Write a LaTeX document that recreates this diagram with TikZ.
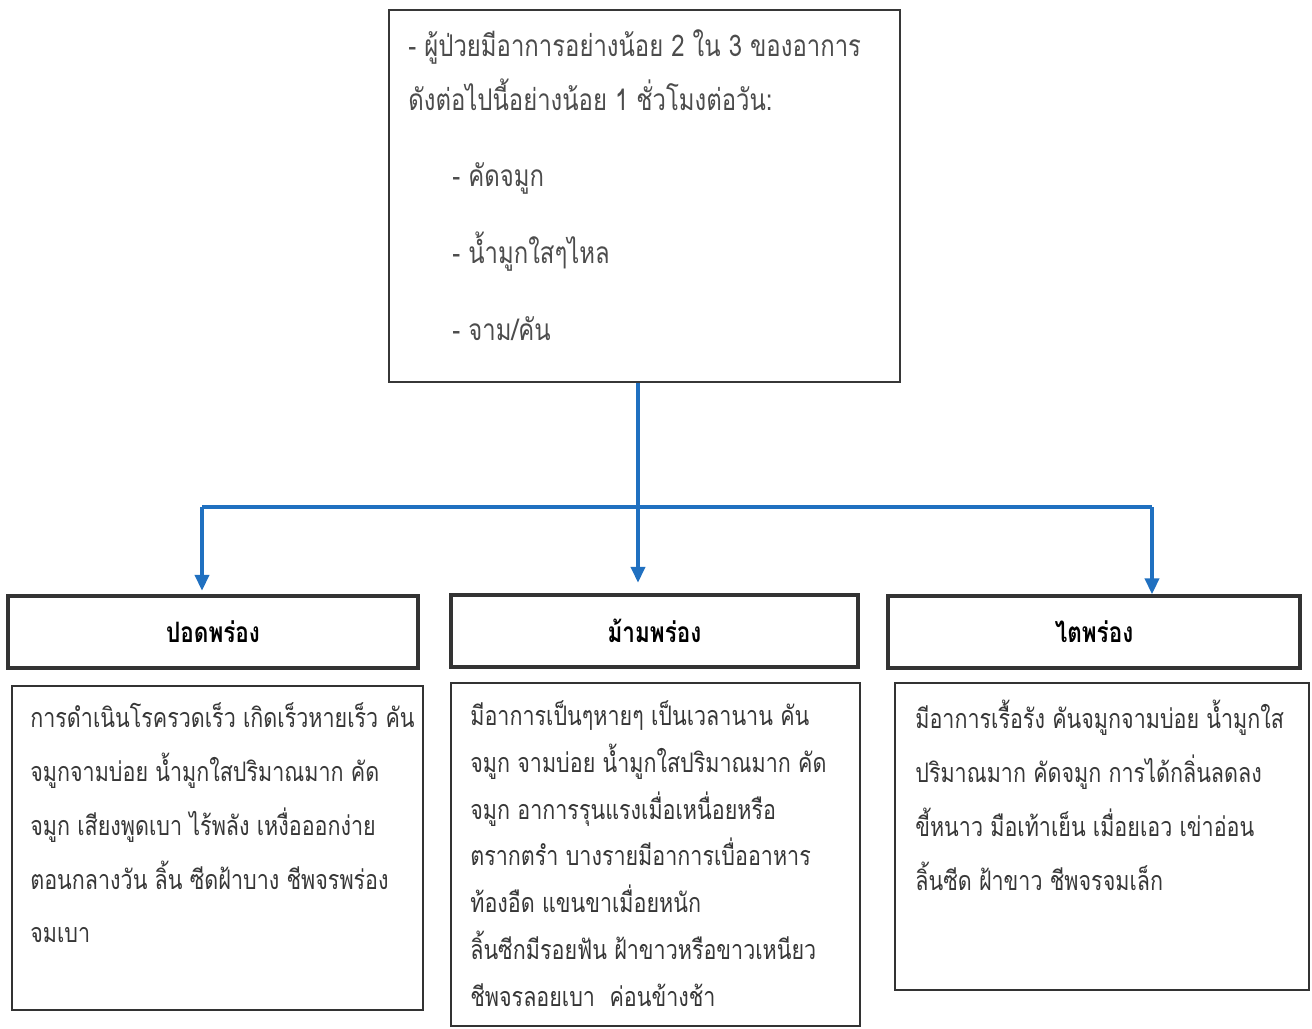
\documentclass[tikz,border=0pt]{standalone}
\usepackage{fontspec}
\newfontfamily\thaifont[Script=Thai,FakeStretch=0.8]{Loma}
\usetikzlibrary{arrows.meta}
\definecolor{linkblue}{RGB}{32,112,192}
\definecolor{inkgray}{RGB}{55,55,55}

\begin{document}
\begin{tikzpicture}[x=0.02cm,y=-0.02cm]
    \tikzset{
        topbox/.style={draw=inkgray, line width=1pt, minimum width=10.22cm, minimum height=7.44cm, inner sep=0pt},
        headbox/.style={draw=black!80, line width=2pt, minimum height=1.44cm, inner sep=0pt,
            font=\thaifont\bfseries\fontsize{16}{18}\selectfont},
        bodybox/.style={draw=black!80, line width=1pt, inner sep=0pt},
        bodytext/.style={anchor=north west, inner sep=0pt, align=left, text=inkgray,
            font=\thaifont\fontsize{15.3}{30.7}\selectfont},
        link/.style={draw=linkblue, line width=2pt},
        arrow/.style={link, -{Triangle[width=8pt,length=9pt]}}
    }
    \useasboundingbox (0,0) rectangle (1312,1028);

    % top box
    \node[topbox] (criteria) at (644.5,196) {};
    \node[bodytext, text=black!70, font=\thaifont\fontsize{17}{30.7}\selectfont] (criteriatext) at (408,29)
        {- ผู้ป่วยมีอาการอย่างน้อย 2 ใน 3 ของอาการ\\
         ดังต่อไปนี้อย่างน้อย 1 ชั่วโมงต่อวัน:\\[13pt]
         \hspace{0.88cm}- คัดจมูก\\[13pt]
         \hspace{0.88cm}- น้ำมูกใสๆไหล\\[13pt]
         \hspace{0.88cm}- จาม/คัน};

    % headings
    \node[headbox, minimum width=8.2cm] (lunghead) at (213,632) {ปอดพร่อง};
    \node[headbox, minimum width=8.14cm] (spleenhead) at (654.5,631) {ม้ามพร่อง};
    \node[headbox, minimum width=8.24cm] (kidneyhead) at (1094,632) {ไตพร่อง};

    % descriptions
    \node[bodybox, minimum width=8.22cm, minimum height=6.48cm] (lungbody) at (217.5,848) {};
    \node[bodybox, minimum width=8.18cm, minimum height=6.86cm] (spleenbody) at (655.5,854.5) {};
    \node[bodybox, minimum width=8.28cm, minimum height=6.14cm] (kidneybody) at (1102,836.5) {};

    \node[bodytext] (lungtext) at (30,702)
        {การดำเนินโรครวดเร็ว เกิดเร็วหายเร็ว คัน\\
         จมูกจามบ่อย น้ำมูกใสปริมาณมาก คัด\\
         จมูก เสียงพูดเบา ไร้พลัง เหงื่อออกง่าย\\
         ตอนกลางวัน ลิ้น ซีดฝ้าบาง ชีพจรพร่อง\\
         จมเบา};
    \node[bodytext, font=\thaifont\fontsize{15.3}{26.7}\selectfont] (spleentext) at (470,700)
        {มีอาการเป็นๆหายๆ เป็นเวลานาน คัน\\
         จมูก จามบ่อย น้ำมูกใสปริมาณมาก คัด\\
         จมูก อาการรุนแรงเมื่อเหนื่อยหรือ\\
         ตรากตรำ บางรายมีอาการเบื่ออาหาร\\
         ท้องอืด แขนขาเมื่อยหนัก\\
         ลิ้นซีกมีรอยฟัน ฝ้าขาวหรือขาวเหนียว\\
         ชีพจรลอยเบา\ \ ค่อนข้างช้า};
    \node[bodytext] (kidneytext) at (915,700)
        {มีอาการเรื้อรัง คันจมูกจามบ่อย น้ำมูกใส\\
         ปริมาณมาก คัดจมูก การได้กลิ่นลดลง\\
         ขี้หนาว มือเท้าเย็น เมื่อยเอว เข่าอ่อน\\
         ลิ้นซีด ฝ้าขาว ชีพจรจมเล็ก};

    % connectors
    \coordinate (splitleft) at (202,507);
    \coordinate (splitmid) at (638,507);
    \coordinate (splitright) at (1152,507);
    \draw[arrow, shorten >=6pt] (splitmid |- criteria.south) -- (splitmid |- spleenhead.north);
    \draw[arrow, shorten >=2pt] (splitleft) -- (splitleft |- lunghead.north);
    \draw[arrow] (splitright) -- (splitright |- kidneyhead.north);
    \draw[link] (splitleft) -- (splitright);
\end{tikzpicture}
\end{document}
